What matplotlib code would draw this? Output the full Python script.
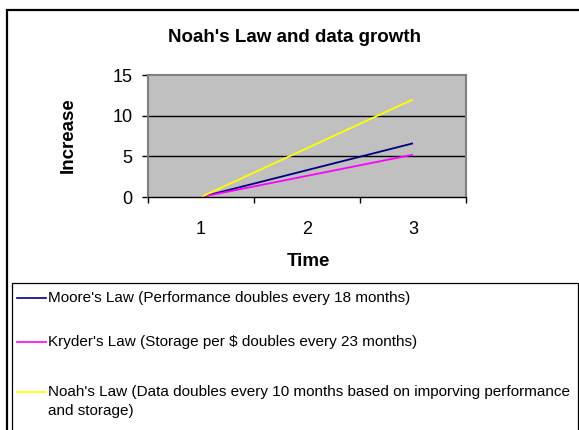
import matplotlib
matplotlib.use("Agg")
import matplotlib.pyplot as plt
from matplotlib.lines import Line2D
from matplotlib.patches import Rectangle

plt.rcParams['font.family'] = ['Liberation Sans', 'DejaVu Sans']

categories = ["1", "2", "3"]
moore = [0, 3.3, 6.6]
kryder = [0, 2.6, 5.2]
noah = [0, 6.0, 12.0]
series_names = [
    "Moore's Law (Performance doubles every 18 months)",
    "Kryder's Law (Storage per $ doubles every 23 months)",
    "Noah's Law (Data doubles every 10 months based on imporving performance\nand storage)",
]
series_colors = ["#000080", "#FF00FF", "#FFFF00"]
yticks = [0, 5, 10, 15]

W, H = 579, 430
fig = plt.figure(figsize=(W / 100, H / 100), dpi=100)

def fx(px):
    return px / W

def fy(py):
    return 1 - py / H

# outer chart border
fig.patches.append(Rectangle((fx(7.5), fy(440)), fx(600), fy(9.5) - fy(440),
                             transform=fig.transFigure, fill=False,
                             edgecolor="black", linewidth=1.6))
# legend box
fig.patches.append(Rectangle((fx(12), fy(440)), fx(578) - fx(12), fy(283) - fy(440),
                             transform=fig.transFigure, fill=False,
                             edgecolor="black", linewidth=0.9))

ax = fig.add_axes([fx(148), fy(197), fx(466) - fx(148), fy(75) - fy(197)])
ax.set_facecolor("#C0C0C0")
x = list(range(1, len(categories) + 1))
for vals, c in zip([moore, kryder, noah], series_colors):
    ax.plot(x, vals, color=c, linewidth=1.3, solid_capstyle="butt")

ax.set_xlim(0.5, len(categories) + 0.5)
ax.set_ylim(0, 15)
ax.set_yticks(yticks)
ax.set_yticklabels([str(t) for t in yticks], fontsize=13)
for t in [5, 10]:
    ax.axhline(t, color="black", linewidth=1.0, zorder=1)

ax.set_xticks([i + 0.5 for i in range(0, len(categories) + 1)])
ax.set_xticklabels([])
ax.set_xticks(x, minor=True)
ax.set_xticklabels(categories, minor=True, fontsize=13)
ax.tick_params(axis="x", which="major", direction="out", length=4.3, width=1, color="black")
ax.tick_params(axis="x", which="minor", length=0, pad=17.5)
ax.tick_params(axis="y", direction="out", length=4.3, width=1, color="black", pad=7)

for s in ["left", "right", "top"]:
    ax.spines[s].set_color("#808080")
    ax.spines[s].set_linewidth(1.5)
ax.spines["bottom"].set_color("black")
ax.spines["bottom"].set_linewidth(1.0)

fig.text(fx(295), fy(37), "Noah's Law and data growth", ha="center", va="center",
         fontsize=13.5, fontweight="bold")
fig.text(fx(68), fy(135), "Increase", ha="center", va="center", rotation=90,
         fontsize=13.5, fontweight="bold")
fig.text(fx(308), fy(262), "Time", ha="center", va="center",
         fontsize=13.5, fontweight="bold")

legend_y = [298, 342, 392]
for name, c, ly in zip(series_names, series_colors, legend_y):
    fig.add_artist(Line2D([fx(17), fx(46)], [fy(ly), fy(ly)], transform=fig.transFigure,
                          color=c, linewidth=1.2))
    for k, line in enumerate(name.split("\n")):
        fig.text(fx(48), fy(ly + 19 * k), line, ha="left", va="center",
                 fontsize=11, transform=fig.transFigure)

fig.savefig("out.png", dpi=100)
